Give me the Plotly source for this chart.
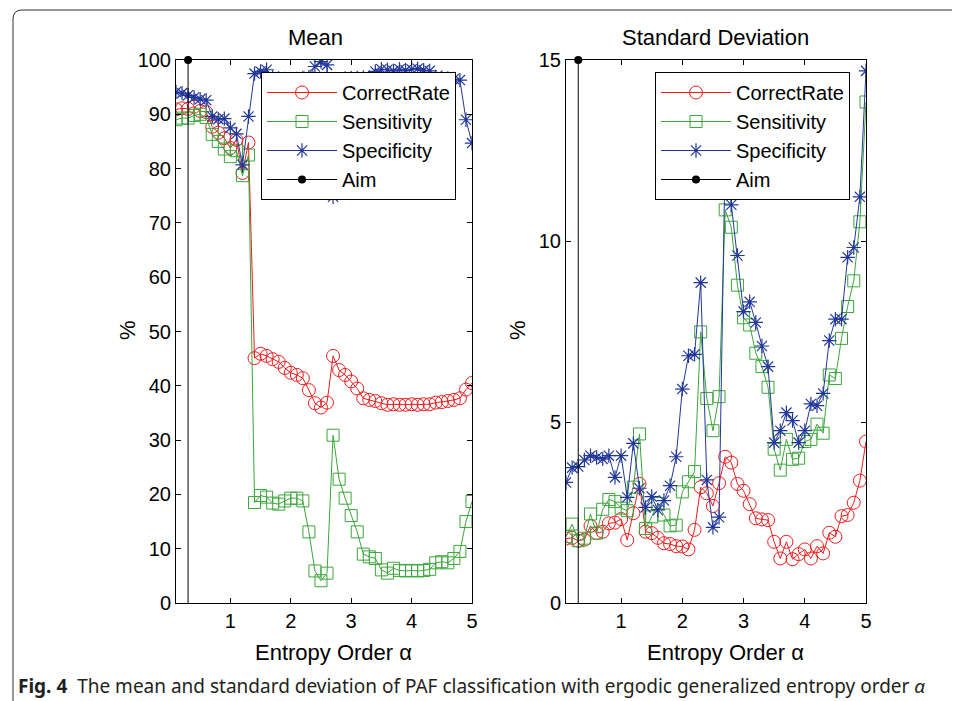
import plotly.graph_objects as go

alpha = [round(0.1 * (i + 1), 1) for i in range(50)]

mean_correct = [90.9, 91.1, 91.0, 91.4, 90.6, 90.4, 87.7, 86.6, 85.6, 83.8,
                85.3, 79.2, 84.8, 45.1, 45.9, 45.5, 44.9, 44.4, 43.3, 42.4,
                42.0, 41.4, 39.2, 36.8, 36.0, 36.9, 45.5, 42.9, 42.0, 40.8,
                39.5, 37.7, 37.4, 37.2, 36.8, 36.5, 36.6, 36.5, 36.5, 36.6,
                36.5, 36.6, 36.6, 36.9, 37.0, 37.2, 37.4, 37.7, 39.3, 40.5]
mean_sens = [89.0, 89.3, 89.3, 89.8, 90.0, 89.4, 86.3, 85.0, 83.6, 82.2,
             83.3, 78.7, 82.5, 18.5, 19.8, 19.5, 18.4, 18.2, 18.8, 19.3,
             19.3, 18.8, 13.1, 5.9, 4.1, 5.5, 30.9, 22.8, 19.3, 16.1,
             13.1, 9.0, 8.5, 8.2, 6.1, 5.5, 6.4, 6.0, 5.9, 6.0,
             5.9, 6.0, 6.2, 7.4, 7.6, 7.4, 8.2, 9.5, 15.0, 18.7]
mean_spec = [94.1, 93.9, 93.5, 93.1, 92.8, 92.6, 89.6, 89.1, 89.2, 87.5,
             86.4, 80.7, 89.6, 97.5, 97.9, 98.2, 96.8, 96.6, 96.5, 96.4,
             96.5, 96.7, 96.9, 98.8, 99.7, 99.1, 74.8, 96.4, 96.6, 96.7,
             96.7, 96.8, 96.8, 97.9, 98.3, 98.2, 98.0, 98.3, 98.1, 98.3,
             98.4, 98.1, 98.0, 96.9, 96.8, 96.6, 96.5, 96.3, 89.0, 84.7]

std_correct = [1.78, 1.80, 1.72, 1.75, 2.13, 1.93, 1.97, 2.20, 2.22, 2.32,
               1.74, 2.48, 3.29, 1.97, 1.93, 1.80, 1.65, 1.63, 1.57, 1.56,
               1.48, 2.02, 3.20, 3.03, 2.68, 3.31, 4.04, 3.88, 3.29, 3.10,
               2.73, 2.34, 2.31, 2.29, 1.69, 1.23, 1.69, 1.21, 1.35, 1.48,
               1.23, 1.57, 1.37, 1.94, 1.83, 2.40, 2.43, 2.77, 3.38, 4.46]
std_sens = [1.83, 2.18, 1.72, 1.79, 2.46, 1.93, 2.59, 2.86, 2.80, 2.62,
            2.55, 3.20, 4.67, 2.06, 2.38, 2.75, 2.43, 2.13, 2.15, 3.07,
            3.35, 3.63, 7.49, 5.65, 4.76, 5.70, 10.86, 10.38, 8.78, 7.88,
            7.68, 6.90, 6.53, 5.96, 4.25, 3.67, 4.52, 3.97, 4.00, 4.46,
            4.52, 4.94, 4.69, 6.30, 6.20, 7.31, 8.19, 8.90, 10.53, 13.84]
std_spec = [3.33, 3.74, 3.77, 3.95, 4.07, 4.02, 3.98, 4.07, 3.47, 4.07,
            2.92, 4.41, 3.17, 2.64, 2.94, 2.57, 2.83, 3.24, 4.04, 5.91,
            6.83, 6.87, 8.85, 3.40, 2.09, 2.37, 12.5, 11.0, 9.60, 8.05,
            8.32, 7.75, 7.10, 6.53, 4.43, 4.76, 5.26, 5.04, 4.43, 4.76,
            5.50, 5.45, 5.79, 7.25, 7.84, 7.84, 9.55, 9.82, 11.22, 14.7]

aim_alpha = 0.3
mean_aim_top = 100
std_aim_top = 15

series_names = ["CorrectRate", "Sensitivity", "Specificity", "Aim"]
x_ticks = [1, 2, 3, 4, 5]
mean_yticks = [0, 10, 20, 30, 40, 50, 60, 70, 80, 90, 100]
std_yticks = [0, 5, 10, 15]

RED = "#ee1c1c"
GREEN = "#3aa63a"
BLUE = "#22379a"
FONT = "Liberation Sans, Arial, sans-serif"

W, H = 960, 701
OFF = 8  # page body offset of the plot div


def px(x):
    return (x - OFF) / W


def py(y):
    return 1 - (y - OFF) / H


fig = go.Figure()


def add_panel(xa, ya, correct, sens, spec, aim_top, legend):
    fig.add_trace(go.Scatter(x=alpha, y=correct, name=series_names[0], mode="lines+markers",
                             line=dict(color=RED, width=1),
                             marker=dict(symbol="circle-open", size=13, color=RED, line=dict(width=1)),
                             xaxis=xa, yaxis=ya, legend=legend))
    fig.add_trace(go.Scatter(x=alpha, y=sens, name=series_names[1], mode="lines+markers",
                             line=dict(color=GREEN, width=1),
                             marker=dict(symbol="square-open", size=12, color=GREEN, line=dict(width=1)),
                             xaxis=xa, yaxis=ya, legend=legend))
    fig.add_trace(go.Scatter(x=alpha, y=spec, name=series_names[2], mode="lines+markers",
                             line=dict(color=BLUE, width=1),
                             marker=dict(symbol="asterisk-open", size=12, color=BLUE,
                                         line=dict(width=1.2, color=BLUE)),
                             xaxis=xa, yaxis=ya, legend=legend))
    fig.add_trace(go.Scatter(x=[aim_alpha, aim_alpha], y=[aim_top, 0], name=series_names[3],
                             mode="lines+markers",
                             line=dict(color="black", width=1),
                             marker=dict(symbol=["circle", "line-ew"], size=8, color="black",
                                         line=dict(width=0)),
                             cliponaxis=False,
                             xaxis=xa, yaxis=ya, legend=legend))


add_panel("x", "y", mean_correct, mean_sens, mean_spec, mean_aim_top, "legend")
add_panel("x2", "y2", std_correct, std_sens, std_spec, std_aim_top, "legend2")

y_dom = [py(603), py(60)]
axis_common = dict(showgrid=False, zeroline=False, showline=True, linecolor="black", linewidth=1,
                   mirror="allticks", ticks="inside", ticklen=5, tickcolor="black",
                   tickfont=dict(family=FONT, size=20, color="black"))

legend_common = dict(bgcolor="white", bordercolor="black", borderwidth=1,
                     font=dict(family=FONT, size=20, color="black"),
                     xanchor="left", yanchor="top", itemwidth=70, tracegroupgap=0)

fig.update_layout(
    width=W, height=H,
    margin=dict(l=0, r=0, t=0, b=0, autoexpand=False),
    paper_bgcolor="white", plot_bgcolor="white",
    xaxis=dict(domain=[px(176), px(472)], range=[0.1, 5], tickvals=x_ticks, anchor="y", **axis_common),
    yaxis=dict(domain=y_dom, range=[0, 100], tickvals=mean_yticks, anchor="x", **axis_common),
    xaxis2=dict(domain=[px(566), px(866)], range=[0.1, 5], tickvals=x_ticks, anchor="y2", **axis_common),
    yaxis2=dict(domain=y_dom, range=[0, 15], tickvals=std_yticks, anchor="x2", **axis_common),
    legend=dict(x=px(261), y=py(72), **legend_common),
    legend2=dict(x=px(655), y=py(72), **legend_common),
    showlegend=True,
)

ann_font = dict(family=FONT, size=22, color="black")
fig.add_annotation(text="Mean", x=px(315), y=py(38), xref="paper", yref="paper",
                   showarrow=False, font=ann_font, xanchor="center", yanchor="middle")
fig.add_annotation(text="Standard Deviation", x=px(715), y=py(38), xref="paper", yref="paper",
                   showarrow=False, font=ann_font, xanchor="center", yanchor="middle")
fig.add_annotation(text="Entropy Order α", x=px(333), y=py(652), xref="paper", yref="paper",
                   showarrow=False, font=ann_font, xanchor="center", yanchor="middle")
fig.add_annotation(text="Entropy Order α", x=px(725), y=py(652), xref="paper", yref="paper",
                   showarrow=False, font=ann_font, xanchor="center", yanchor="middle")
fig.add_annotation(text="%", x=px(127), y=py(330), xref="paper", yref="paper", textangle=-90,
                   showarrow=False, font=ann_font, xanchor="center", yanchor="middle")
fig.add_annotation(text="%", x=px(517), y=py(330), xref="paper", yref="paper", textangle=-90,
                   showarrow=False, font=ann_font, xanchor="center", yanchor="middle")
fig.add_annotation(text="<b>Fig. 4</b>  The mean and standard deviation of PAF classification with ergodic generalized entropy order <i>α</i>",
                   x=px(16), y=py(686), xref="paper", yref="paper", showarrow=False,
                   font=dict(family="Noto Sans, Open Sans, sans-serif", size=19, color="#231f20"),
                   xanchor="left", yanchor="middle")

# page frame with rounded corner
fig.add_shape(type="path", xref="paper", yref="paper",
              path=f"M {px(13)},{py(720)} L {px(13)},{py(19)} Q {px(13)},{py(10)} {px(22)},{py(10)} L {px(975)},{py(10)}",
              line=dict(color="#333333", width=1))

fig.write_html("out.html")
